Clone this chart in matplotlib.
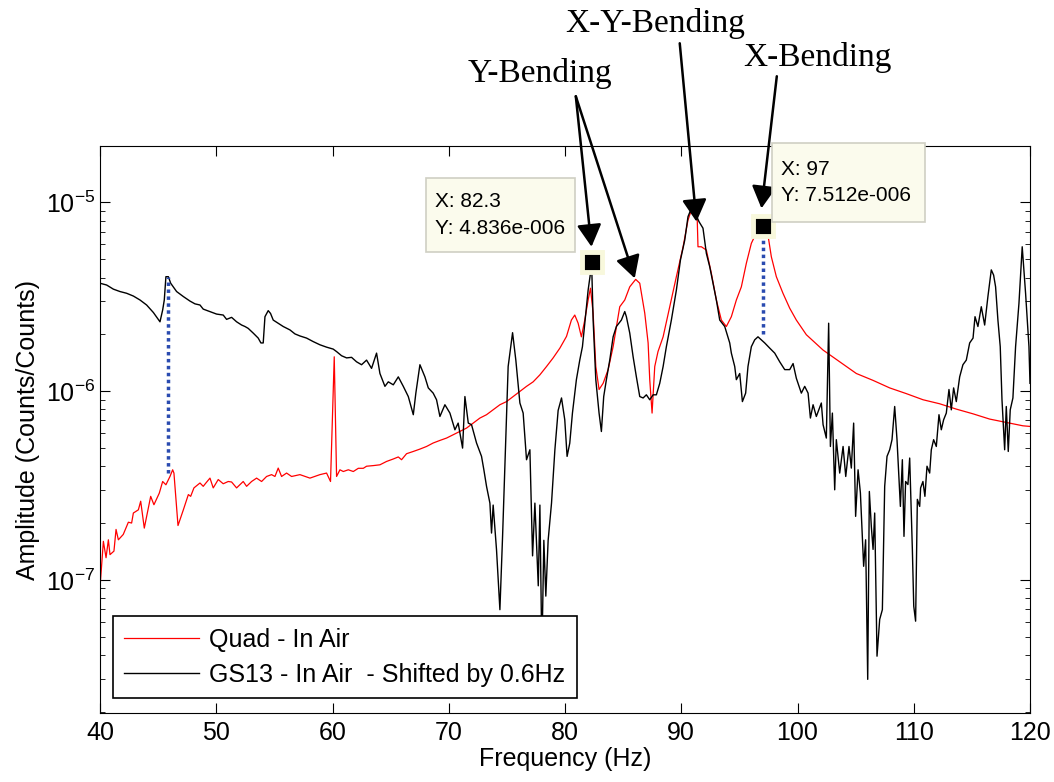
import matplotlib
matplotlib.use("Agg")
import matplotlib.pyplot as plt
from matplotlib.patches import Rectangle

plt.rcParams['font.family'] = ['Liberation Sans', 'DejaVu Sans']
plt.rcParams['mathtext.fontset'] = 'custom'
plt.rcParams['mathtext.rm'] = 'Liberation Sans'
plt.rcParams['mathtext.it'] = 'Liberation Sans:italic'
plt.rcParams['axes.unicode_minus'] = False

# Quad - In Air (red)
quad_freq = [40.0, 40.29, 40.52, 40.72, 40.86, 41.2, 41.38, 41.58, 42.0, 42.44, 42.72, 42.87,
             43.3, 43.5, 43.81, 44.36, 44.64, 45.1, 45.39, 45.67, 46.02, 46.25, 46.36, 46.71,
             47.17, 47.6, 47.8, 48.08, 48.6, 48.88, 49.11, 49.46, 49.74, 50.17, 50.6, 51.03,
             51.32, 51.75, 52.32, 52.61, 53.04, 53.47, 53.9, 54.33, 54.76, 55.05, 55.33, 55.62,
             56.05, 56.48, 57.2, 58.06, 58.92, 59.49, 59.83, 60.15, 60.35, 60.64, 60.93, 61.36,
             61.79, 62.22, 62.65, 62.93, 63.5, 64.08, 64.65, 65.23, 65.66, 65.94, 66.37, 66.95,
             67.52, 68.09, 68.66, 69.24, 69.81, 70.38, 70.96, 71.53, 72.1, 72.68, 73.25, 73.82,
             74.4, 74.97, 75.54, 76.12, 76.69, 77.26, 77.84, 78.41, 78.98, 79.56, 80.13, 80.55,
             80.84, 81.13, 81.41, 81.7, 81.99, 82.19, 82.42, 82.65, 82.93, 83.28, 83.71, 84.14,
             84.71, 85.14, 85.57, 86.08, 86.43, 86.86, 87.15, 87.29, 87.49, 87.72, 88.0, 88.44,
             89.01, 89.58, 90.16, 90.58, 90.87, 91.16, 91.36, 91.44, 91.73, 92.16, 92.59, 93.02,
             93.45, 93.88, 94.31, 94.74, 95.17, 95.6, 96.03, 96.46, 97.0, 97.46, 97.75, 98.18,
             98.75, 99.33, 99.9, 100.76, 102.2, 103.63, 105.06, 106.5, 107.93, 109.36, 110.8,
             112.23, 113.66, 115.1, 116.53, 117.96, 119.39, 120.0]
quad_amp = [9.1e-8, 1.6e-7, 1.31e-7, 1.63e-7, 1.36e-7, 1.42e-7, 1.85e-7, 1.63e-7, 1.74e-7, 2.02e-7,
            2.0e-7, 2.26e-7, 2.35e-7, 2.61e-7, 1.88e-7, 2.77e-7, 2.5e-7, 2.88e-7, 3.32e-7, 3.19e-7,
            3.53e-7, 3.83e-7, 3.68e-7, 1.94e-7, 2.35e-7, 2.83e-7, 2.77e-7, 3.07e-7, 3.26e-7, 3.13e-7,
            3.26e-7, 3.46e-7, 3.07e-7, 3.4e-7, 3.23e-7, 3.32e-7, 3.3e-7, 3.07e-7, 3.32e-7, 3.13e-7,
            3.32e-7, 3.46e-7, 3.32e-7, 3.53e-7, 3.61e-7, 3.53e-7, 3.91e-7, 3.53e-7, 3.68e-7, 3.53e-7,
            3.61e-7, 3.46e-7, 3.61e-7, 3.68e-7, 3.32e-7, 1.52e-6, 3.53e-7, 3.83e-7, 3.75e-7, 3.83e-7,
            3.75e-7, 3.9e-7, 3.9e-7, 4.0e-7, 4.03e-7, 4.07e-7, 4.24e-7, 4.37e-7, 4.48e-7, 4.33e-7,
            4.66e-7, 4.79e-7, 4.93e-7, 5.09e-7, 5.31e-7, 5.48e-7, 5.64e-7, 5.87e-7, 6.11e-7, 6.37e-7,
            6.77e-7, 7.2e-7, 7.5e-7, 7.96e-7, 8.47e-7, 8.8e-7, 9.36e-7, 9.95e-7, 1.06e-6, 1.12e-6,
            1.22e-6, 1.35e-6, 1.5e-6, 1.69e-6, 1.95e-6, 2.38e-6, 2.53e-6, 2.29e-6, 1.94e-6, 2.38e-6,
            3.04e-6, 3.51e-6, 2.59e-6, 1.35e-6, 1.02e-6, 1.1e-6, 1.3e-6, 1.72e-6, 2.8e-6, 3.04e-6,
            3.57e-6, 3.91e-6, 3.73e-6, 2.59e-6, 1.8e-6, 1.15e-6, 7.65e-7, 1.35e-6, 1.62e-6, 1.94e-6,
            2.8e-6, 4.04e-6, 5.82e-6, 8.06e-6, 9.1e-6, 9.68e-6, 8.75e-6, 5.82e-6, 5.82e-6, 5.59e-6,
            4.21e-6, 3.04e-6, 2.38e-6, 2.2e-6, 2.48e-6, 3.04e-6, 3.57e-6, 4.76e-6, 6.07e-6, 6.9e-6,
            7.51e-6, 6.71e-6, 5.15e-6, 4.04e-6, 3.3e-6, 2.75e-6, 2.38e-6, 1.99e-6, 1.65e-6, 1.43e-6,
            1.24e-6, 1.14e-6, 1.04e-6, 9.7e-7, 9.0e-7, 8.57e-7, 8.03e-7, 7.58e-7, 7.11e-7, 6.82e-7,
            6.55e-7, 6.5e-7]

# GS13 - In Air, shifted by 0.6 Hz (black)
gs13_freq = [40.0, 40.57, 41.15, 41.72, 42.29, 42.87, 43.44, 44.01, 44.59, 45.16, 45.39, 45.53,
             45.67, 45.88, 46.08, 46.59, 47.17, 47.74, 48.17, 48.6, 48.88, 49.46, 50.03, 50.6,
             50.89, 51.32, 51.75, 52.18, 52.47, 52.75, 53.18, 53.61, 53.84, 54.04, 54.19, 54.47,
             54.67, 54.9, 55.33, 55.76, 56.34, 56.77, 57.2, 57.77, 58.34, 58.92, 59.49, 60.06,
             60.35, 60.78, 61.21, 61.64, 62.07, 62.5, 62.93, 63.36, 63.79, 64.08, 64.51, 64.8,
             65.23, 65.66, 66.09, 66.52, 66.95, 67.17, 67.52, 67.95, 68.24, 68.66, 68.95, 69.24,
             69.67, 70.1, 70.53, 70.81, 71.19, 71.39, 71.68, 71.96, 72.39, 72.82, 73.02, 73.25,
             73.54, 73.68, 73.82, 74.11, 74.4, 74.63, 74.83, 75.11, 75.49, 75.77, 76.12, 76.4,
             76.69, 76.98, 77.21, 77.41, 77.7, 77.84, 78.01, 78.18, 78.35, 78.55, 78.84, 79.13,
             79.41, 79.7, 79.98, 80.18, 80.41, 80.64, 80.98, 81.27, 81.5, 81.79, 81.99, 82.19,
             82.3, 82.42, 82.65, 82.93, 83.13, 83.33, 83.56, 83.85, 84.14, 84.42, 84.85, 85.14,
             85.28, 85.57, 85.86, 86.14, 86.43, 86.72, 87.0, 87.29, 87.58, 87.86, 88.15, 88.44,
             88.72, 89.15, 89.58, 89.93, 90.3, 90.58, 90.87, 91.16, 91.53, 91.87, 92.16, 92.45,
             92.73, 93.02, 93.31, 93.74, 94.17, 94.31, 94.6, 94.74, 95.03, 95.26, 95.54, 95.74,
             96.03, 96.32, 96.6, 96.89, 97.18, 97.61, 98.04, 98.47, 98.9, 99.33, 99.62, 99.9,
             100.33, 100.62, 100.91, 101.11, 101.34, 101.62, 102.05, 102.2, 102.48, 102.68, 102.83, 103.0,
             103.2, 103.34, 103.63, 103.92, 104.15, 104.43, 104.63, 104.83, 105.0, 105.21, 105.41, 105.69,
             105.86, 106.04, 106.18, 106.35, 106.5, 106.64, 106.84, 107.07, 107.3, 107.5, 107.7, 107.93,
             108.13, 108.36, 108.56, 108.85, 109.02, 109.16, 109.3, 109.5, 109.65, 109.88, 110.0, 110.16,
             110.31, 110.51, 110.59, 110.79, 110.96, 111.14, 111.37, 111.51, 111.71, 111.94, 112.17, 112.37,
             112.57, 112.8, 113.03, 113.23, 113.43, 113.66, 113.95, 114.23, 114.52, 114.81, 115.1, 115.27,
             115.52, 115.81, 116.1, 116.38, 116.67, 116.87, 117.04, 117.24, 117.44, 117.59, 117.82, 117.96,
             118.13, 118.3, 118.53, 118.76, 119.05, 119.33, 119.62, 119.91, 120.0]
gs13_amp = [3.73e-6, 3.65e-6, 3.47e-6, 3.37e-6, 3.3e-6, 3.19e-6, 3.04e-6, 2.86e-6, 2.61e-6, 2.33e-6,
            2.69e-6, 3.04e-6, 4.04e-6, 4.04e-6, 3.73e-6, 3.37e-6, 3.17e-6, 3.0e-6, 2.9e-6, 2.86e-6,
            2.72e-6, 2.64e-6, 2.56e-6, 2.53e-6, 2.4e-6, 2.46e-6, 2.33e-6, 2.24e-6, 2.2e-6, 2.15e-6,
            2.03e-6, 1.91e-6, 1.8e-6, 1.8e-6, 2.48e-6, 2.67e-6, 2.58e-6, 2.38e-6, 2.29e-6, 2.2e-6,
            2.11e-6, 2.01e-6, 1.96e-6, 1.91e-6, 1.83e-6, 1.76e-6, 1.71e-6, 1.67e-6, 1.62e-6, 1.54e-6,
            1.5e-6, 1.51e-6, 1.43e-6, 1.38e-6, 1.46e-6, 1.32e-6, 1.59e-6, 1.24e-6, 1.06e-6, 1.12e-6,
            1.08e-6, 1.19e-6, 1.06e-6, 9.36e-7, 7.5e-7, 9.76e-7, 1.38e-6, 1.19e-6, 1.04e-6, 9.76e-7,
            9.0e-7, 7.34e-7, 8.47e-7, 7.65e-7, 6.24e-7, 6.77e-7, 4.99e-7, 9.36e-7, 6.77e-7, 6.64e-7,
            5.31e-7, 4.51e-7, 3.83e-7, 3.13e-7, 2.55e-7, 1.77e-7, 2.49e-7, 1.44e-7, 6.95e-8, 1.7e-7,
            3.98e-7, 1.35e-6, 2.04e-6, 1.46e-6, 8.65e-7, 7.65e-7, 4.33e-7, 4.89e-7, 1.34e-7, 2.55e-7,
            9.3e-8, 2.49e-7, 4.0e-8, 1.62e-7, 8.2e-8, 1.62e-7, 2.55e-7, 4.89e-7, 7.9e-7, 9.2e-7,
            7.05e-7, 4.51e-7, 5.3e-7, 7.65e-7, 1.15e-6, 1.46e-6, 1.72e-6, 2.59e-6, 3.43e-6, 4.21e-6,
            4.5e-6, 2.38e-6, 1.15e-6, 7.65e-7, 6.11e-7, 9.36e-7, 1.15e-6, 1.46e-6, 1.94e-6, 2.2e-6,
            2.38e-6, 2.64e-6, 2.48e-6, 2.03e-6, 1.52e-6, 1.19e-6, 9.36e-7, 9.2e-7, 9.56e-7, 9.0e-7,
            9.56e-7, 9.56e-7, 1.1e-6, 1.35e-6, 1.72e-6, 2.38e-6, 3.43e-6, 4.95e-6, 6.31e-6, 8.4e-6,
            9.3e-6, 8.9e-6, 7.9e-6, 7.3e-6, 5.37e-6, 4.56e-6, 3.73e-6, 3.04e-6, 2.38e-6, 2.2e-6,
            1.8e-6, 1.59e-6, 1.35e-6, 1.15e-6, 1.24e-6, 8.8e-7, 9.76e-7, 1.35e-6, 1.72e-6, 1.87e-6,
            1.94e-6, 1.87e-6, 1.8e-6, 1.69e-6, 1.59e-6, 1.43e-6, 1.3e-6, 1.3e-6, 1.4e-6, 1.17e-6,
            9.76e-7, 1.06e-6, 9.76e-7, 7.2e-7, 8.47e-7, 7.34e-7, 8.65e-7, 6.64e-7, 5.64e-7, 2.29e-6,
            5.09e-7, 7.65e-7, 3.0e-7, 5.53e-7, 3.68e-7, 5.09e-7, 3.53e-7, 5.09e-7, 3.91e-7, 6.77e-7,
            2.17e-7, 3.83e-7, 2.89e-7, 1.18e-7, 1.63e-7, 2.97e-8, 2.94e-7, 1.92e-7, 1.45e-7, 2.26e-7,
            3.94e-8, 6.17e-8, 6.95e-8, 3.13e-7, 4.51e-7, 4.89e-7, 5.53e-7, 8.29e-7, 5.53e-7, 2.45e-7,
            4.33e-7, 1.7e-7, 3.32e-7, 3.2e-7, 4.42e-7, 1.45e-7, 7.25e-8, 6.04e-8, 2.67e-7, 2.45e-7,
            3.07e-7, 3.32e-7, 2.77e-7, 4.0e-7, 3.68e-7, 4.89e-7, 5.53e-7, 5.09e-7, 7.5e-7, 6.24e-7,
            7.05e-7, 7.65e-7, 1.02e-6, 7.96e-7, 1.04e-6, 8.8e-7, 1.19e-6, 1.38e-6, 1.46e-6, 1.8e-6,
            1.91e-6, 2.48e-6, 2.2e-6, 2.8e-6, 2.24e-6, 3.17e-6, 4.39e-6, 4.12e-6, 3.57e-6, 2.38e-6,
            1.72e-6, 9.0e-7, 4.89e-7, 8.29e-7, 4.79e-7, 7.96e-7, 9.2e-7, 1.72e-6, 2.92e-6, 5.82e-6,
            3.3e-6, 1.72e-6, 1.1e-6]

# data tips and dotted connectors
tip_x = [82.3, 97.0]
tip_y = [4.836e-6, 7.512e-6]
tip_text = ["X: 82.3\nY: 4.836e-006", "X: 97\nY: 7.512e-006"]
conn_x = [45.88, 97.0]
conn_lo = [3.7e-7, 2.0e-6]
conn_hi = [4.04e-6, 7.51e-6]

W, H = 1054, 782
fig = plt.figure(figsize=(W / 100, H / 100), dpi=100)
ax = fig.add_axes([100 / W, 1 - 713 / H, 930 / W, 567 / H])

ax.plot(quad_freq, quad_amp, color='#ff0000', lw=0.9, label='Quad - In Air')
ax.plot(gs13_freq, gs13_amp, color='black', lw=1.0, label='GS13 - In Air  - Shifted by 0.6Hz')
for x, lo, hi in zip(conn_x, conn_lo, conn_hi):
    ax.plot([x, x], [lo, hi], color='#2a4bb0', lw=2.5, ls=(0, (1, 1)))
ax.plot(tip_x, tip_y, 's', ms=14, mfc='black', mec='#f8f8dc', mew=3.5, ls='none', zorder=5)

ax.set_yscale('log')
ax.set_xlim(40, 120)
ax.set_ylim(1.97e-8, 1.99e-5)
ax.set_xticks(range(40, 121, 10))
ax.tick_params(which='both', direction='in', top=True, right=True, labelsize=18)
ax.tick_params(which='major', length=7)
ax.tick_params(which='minor', length=3.5)
ax.tick_params(axis='x', which='minor', bottom=False, top=False)
ax.tick_params(axis='x', pad=6)
ax.set_xlabel('Frequency (Hz)', fontsize=18, labelpad=1)
ax.set_ylabel('Amplitude (Counts/Counts)', fontsize=18, labelpad=4)

leg = ax.legend(loc='lower left', bbox_to_anchor=(13 / 930, 15 / 567), borderaxespad=0,
                fontsize=18, fancybox=False, edgecolor='black', framealpha=1,
                handlelength=3.0, handletextpad=0.4, borderpad=0.45, labelspacing=0.45)
leg.get_frame().set_linewidth(1.2)

# data tip boxes (figure pixels)
boxes = [(426, 178, 575, 252), (772, 143, 925, 222)]
for (x0, y0, x1, y1), txt in zip(boxes, tip_text):
    fig.add_artist(Rectangle((x0 / W, 1 - y1 / H), (x1 - x0) / W, (y1 - y0) / H,
                             transform=fig.transFigure, facecolor='#fbfbed',
                             edgecolor='#cfcfc4', lw=1.2, zorder=3))
    fig.text((x0 + 9) / W, 1 - (y0 + y1) / 2 / H, txt, fontsize=15, va='center',
             ha='left', linespacing=1.5, zorder=4)

# mode labels and arrows
fig.text(540 / W, 1 - 82 / H, 'Y-Bending', family='Liberation Serif', fontsize=24,
         ha='center', va='baseline')
fig.text(655 / W, 1 - 32 / H, 'X-Y-Bending', family='Liberation Serif', fontsize=24,
         ha='center', va='baseline')
fig.text(817 / W, 1 - 66 / H, 'X-Bending', family='Liberation Serif', fontsize=24,
         ha='center', va='baseline')

arrows = [((82.28, 5.82e-6), (80.93, 3.65e-5)),
          ((86.0, 3.96e-6), (80.93, 3.65e-5)),
          ((91.31, 7.9e-6), (89.87, 6.97e-5)),
          ((96.9, 9.3e-6), (98.22, 4.66e-5))]
for tip, start in arrows:
    ax.annotate('', xy=tip, xytext=start, annotation_clip=False,
                arrowprops=dict(arrowstyle='-|>,head_length=0.4,head_width=0.22',
                                mutation_scale=34, color='black', lw=1.8,
                                shrinkA=0, shrinkB=0))

fig.savefig('out.png', dpi=100)
